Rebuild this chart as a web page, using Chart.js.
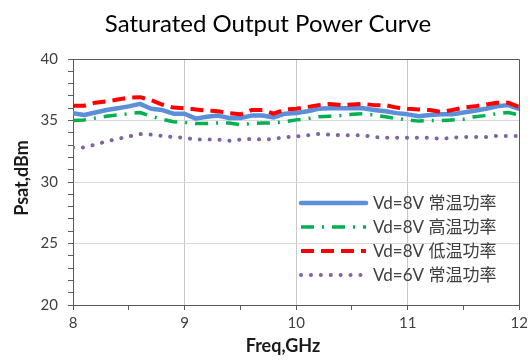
<!DOCTYPE html>
<html><head><meta charset="utf-8">
<script src="https://cdn.jsdelivr.net/npm/chart.js@4.4.1/dist/chart.umd.min.js"></script>
<style>html,body{margin:0;padding:0;background:#fff}canvas{display:block}</style>
</head><body>
<canvas id="c" width="532" height="361" style="width:532px;height:361px"></canvas>
<script>
const chartTitle = 'Saturated Output Power Curve';
const xTitle = 'Freq,GHz';
const yTitle = 'Psat,dBm';
const freqs = [8.0,8.1,8.2,8.3,8.4,8.5,8.6,8.7,8.8,8.9,
               9.0,9.1,9.2,9.3,9.4,9.5,9.6,9.7,9.8,9.9,
               10.0,10.1,10.2,10.3,10.4,10.5,10.6,10.7,10.8,10.9,
               11.0,11.1,11.2,11.3,11.4,11.5,11.6,11.7,11.8,11.9,12.0];
const seriesNames = ['Vd=8V 常温功率','Vd=8V 高温功率','Vd=8V 低温功率','Vd=6V 常温功率'];
const vd8Room = [35.6,35.45,35.65,35.85,36.0,36.15,36.35,35.95,35.85,35.55,
                 35.55,35.15,35.3,35.4,35.2,35.2,35.4,35.4,35.25,35.55,
                 35.6,35.75,35.95,36.0,36.0,36.0,36.0,35.85,35.75,35.6,
                 35.5,35.35,35.45,35.5,35.5,35.65,35.8,35.95,36.15,36.25,35.95];
const vd8Hot  = [35.0,35.05,35.2,35.35,35.45,35.55,35.65,35.35,35.1,34.9,
                 34.85,34.75,34.75,34.8,34.8,34.65,34.75,34.8,34.8,34.9,
                 35.05,35.15,35.3,35.35,35.4,35.5,35.55,35.45,35.3,35.15,
                 35.05,34.95,35.0,35.0,35.05,35.1,35.3,35.4,35.55,35.65,35.45];
const vd8Cold = [36.2,36.2,36.45,36.55,36.7,36.85,36.9,36.65,36.3,36.05,
                 36.0,35.9,35.8,35.75,35.6,35.5,35.85,35.85,35.55,35.9,
                 35.95,36.1,36.25,36.35,36.25,36.3,36.35,36.25,36.25,36.05,
                 35.95,35.9,35.85,35.7,35.85,36.05,36.15,36.3,36.45,36.45,36.1];
const vd6Room = [32.8,32.8,33.05,33.3,33.5,33.7,33.9,33.85,33.75,33.65,
                 33.6,33.45,33.45,33.45,33.35,33.45,33.5,33.45,33.5,33.65,
                 33.7,33.8,33.9,33.85,33.8,33.8,33.8,33.65,33.6,33.6,
                 33.6,33.6,33.6,33.5,33.6,33.65,33.65,33.65,33.75,33.75,33.75];
const yMin = 20, yMax = 40, yMajor = 5;
const xMin = 8, xMax = 12;

const pts = arr => arr.map((v,i)=>({x:freqs[i], y:v}));
const FONT = 'Lato, "Noto Sans CJK SC", sans-serif';

const styles = [
  {color:'#5B8FD9', width:4.5, dash:[], cap:'round'},
  {color:'#00B050', width:3.5, dash:[13,8,2,8], cap:'butt'},
  {color:'#FF0000', width:4, dash:[13,7], cap:'butt'},
  {color:'#8064A2', width:4, dash:[0.1,9.8], cap:'round'}
];
const seriesData = [vd8Room, vd8Hot, vd8Cold, vd6Room];

const datasets = seriesData.map((d,i)=>({
  label: seriesNames[i],
  data: pts(d),
  borderColor: styles[i].color,
  backgroundColor: styles[i].color,
  borderWidth: styles[i].width,
  borderDash: styles[i].dash,
  borderCapStyle: styles[i].cap,
  borderJoinStyle: 'round',
  pointRadius: 0,
  tension: 0,
  fill: false,
  order: 3 - i
}));

const decor = {
  id: 'decor',
  beforeDraw(chart){
    const c = chart.ctx;
    c.save(); c.fillStyle = '#fff'; c.fillRect(0,0,chart.width,chart.height); c.restore();
  },
  afterDraw(chart){
    const c = chart.ctx, a = chart.chartArea;
    c.save();
    c.strokeStyle = '#595959'; c.lineWidth = 1;
    c.beginPath();
    c.moveTo(Math.round(a.left)-0.5, Math.round(a.top)+0.5);
    c.lineTo(Math.round(a.right)+0.5, Math.round(a.top)+0.5);
    c.lineTo(Math.round(a.right)+0.5, Math.round(a.bottom));
    c.stroke();
    c.fillStyle = '#000';
    c.font = '24px ' + FONT;
    c.textAlign = 'center'; c.textBaseline = 'alphabetic';
    c.fillText(chartTitle, 268, 32);
    c.fillStyle = '#1a1a1a';
    c.font = 'bold 18px ' + FONT;
    c.textBaseline = 'middle';
    c.fillText(xTitle, 283, 346);
    c.save();
    c.translate(22, 178); c.rotate(-Math.PI/2);
    c.fillText(yTitle, 0, 0);
    c.restore();
    c.font = '17px ' + FONT;
    c.textAlign = 'left';
    chart.data.datasets.forEach((ds,i)=>{
      const y = 203 + i*24;
      c.save();
      c.strokeStyle = ds.borderColor; c.lineWidth = ds.borderWidth;
      c.setLineDash(ds.borderDash); c.lineCap = ds.borderCapStyle;
      c.beginPath(); c.moveTo(301, y); c.lineTo(366, y); c.stroke();
      c.restore();
      c.fillStyle = '#404040';
      c.fillText(ds.label, 373, y+1);
    });
    c.restore();
  }
};

new Chart(document.getElementById('c'), {
  type: 'line',
  data: { datasets },
  options: {
    responsive: false,
    animation: false,
    devicePixelRatio: 1,
    layout: { padding: { top: 59, right: 11, left: 0, bottom: 0 } },
    plugins: { legend: { display: false }, tooltip: { enabled: false }, title: { display: false } },
    scales: {
      x: {
        type: 'linear', min: xMin, max: xMax,
        afterFit: s => { s.height = 56; },
        ticks: {
          stepSize: 0.5, autoSkip: false, maxRotation: 0, padding: 4,
          color: '#404040', font: { family: FONT, size: 15 },
          callback: v => Number.isInteger(v) ? String(v) : ''
        },
        grid: {
          drawTicks: true, tickLength: 5,
          color: ctx => (Number.isInteger(ctx.tick.value) && ctx.tick.value > xMin && ctx.tick.value < xMax) ? '#C8C8C8' : 'rgba(0,0,0,0)',
          tickColor: '#595959', lineWidth: 1
        },
        border: { color: '#595959', width: 1 }
      },
      y: {
        min: yMin, max: yMax,
        afterFit: s => { s.width = 73; },
        ticks: {
          stepSize: 1, autoSkip: false, padding: 10,
          color: '#404040', font: { family: FONT, size: 15 },
          callback: v => (v % yMajor === 0) ? String(v) : ''
        },
        grid: {
          drawTicks: true, tickLength: 5,
          color: ctx => (ctx.tick.value % yMajor === 0 && ctx.tick.value > yMin && ctx.tick.value < yMax) ? '#D9D9D9' : 'rgba(0,0,0,0)',
          tickColor: '#595959', lineWidth: 1
        },
        border: { color: '#595959', width: 1 }
      }
    }
  },
  plugins: [decor]
});
</script>
</body></html>
